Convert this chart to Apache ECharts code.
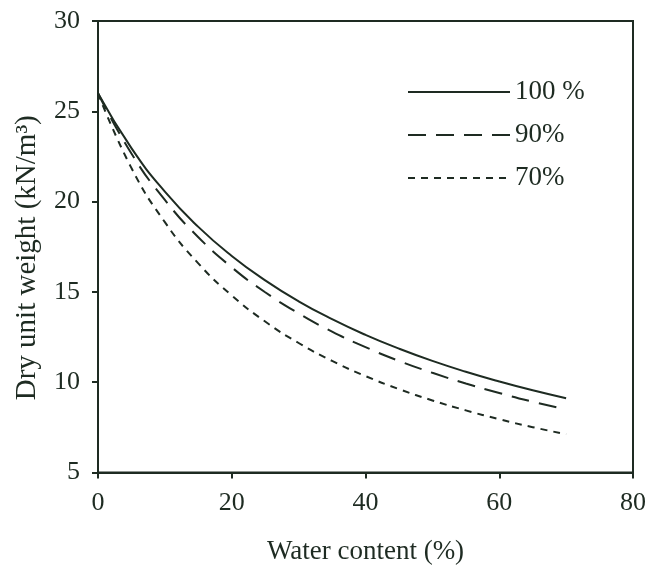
<!DOCTYPE html>
<html>
<head>
<meta charset="utf-8">
<script src="https://cdn.jsdelivr.net/npm/echarts@6/dist/echarts.min.js"></script>
<style>html,body{margin:0;padding:0;background:#fff;}#c{width:650px;height:570px;}</style>
</head>
<body>
<div id="c"></div>
<script>
var waterContent = [0, 5, 10, 15, 20, 25, 30, 35, 40, 45, 50, 55, 60, 65, 70];
var sat100 = [26.0, 22.96, 20.55, 18.6, 16.99, 15.64, 14.48, 13.49, 12.62, 11.86, 11.18, 10.58, 10.04, 9.55, 9.11];
var sat90  = [26.0, 22.66, 20.09, 18.03, 16.36, 14.98, 13.81, 12.8, 11.94, 11.18, 10.52, 9.93, 9.4, 8.92, 8.49];
var sat70  = [26.0, 21.86, 18.86, 16.58, 14.8, 13.36, 12.17, 11.18, 10.34, 9.62, 8.99, 8.44, 7.95, 7.51, 7.12];
var seriesNames = ['100 %', '90%', '70%'];
var xTicks = [0, 20, 40, 60, 80];
var yTicks = [5, 10, 15, 20, 25, 30];

function pairs(ys) { return waterContent.map(function (x, i) { return [x, ys[i]]; }); }

var font = 'Liberation Serif, Times New Roman, serif';
var col = '#1e2b22';
var chart = echarts.init(document.getElementById('c'));
chart.setOption({
  backgroundColor: '#fff',
  animation: false,
  grid: { left: 98, right: 17, top: 21, bottom: 96, show: true, borderColor: col, borderWidth: 2, backgroundColor: 'transparent' },
  legend: {
    orient: 'vertical', left: 407, top: 77, padding: 0,
    itemWidth: 102, itemHeight: 14, itemGap: 13,
    data: seriesNames,
    itemStyle: { opacity: 0 },
    textStyle: { fontFamily: font, fontSize: 27, lineHeight: 30, color: col, padding: [0, 0, 0, 0] }
  },
  xAxis: {
    type: 'value', min: 0, max: 80, interval: 20,
    axisLine: { show: true, lineStyle: { color: col, width: 2 } },
    axisTick: { show: true, inside: false, length: 6, lineStyle: { color: col, width: 2 } },
    splitLine: { show: false },
    axisLabel: { fontFamily: font, fontSize: 26, color: col, margin: 18 },
    name: 'Water content (%)', nameLocation: 'middle', nameGap: 79,
    nameTextStyle: { fontFamily: font, fontSize: 27, color: col, verticalAlign: 'middle' }
  },
  yAxis: {
    type: 'value', min: 5, max: 30, interval: 5,
    axisLine: { show: true, lineStyle: { color: col, width: 2 } },
    axisTick: { show: true, inside: false, length: 6, lineStyle: { color: col, width: 2 } },
    splitLine: { show: false },
    axisLabel: { fontFamily: font, fontSize: 26, color: col, margin: 18 },
    name: 'Dry unit weight (kN/m³)', nameLocation: 'middle', nameGap: 71,
    nameTextStyle: { fontFamily: font, fontSize: 29, color: col, verticalAlign: 'middle', padding: [0, 22, 0, 0] }
  },
  series: [
    { name: seriesNames[0], type: 'line', data: pairs(sat100), smooth: true, symbol: 'none',
      lineStyle: { color: col, width: 2, type: 'solid' } },
    { name: seriesNames[1], type: 'line', data: pairs(sat90), smooth: true, symbol: 'none',
      lineStyle: { color: col, width: 2, type: [18, 10] } },
    { name: seriesNames[2], type: 'line', data: pairs(sat70), smooth: true, symbol: 'none',
      lineStyle: { color: col, width: 2, type: [7, 6] } }
  ]
});
</script>
</body>
</html>
